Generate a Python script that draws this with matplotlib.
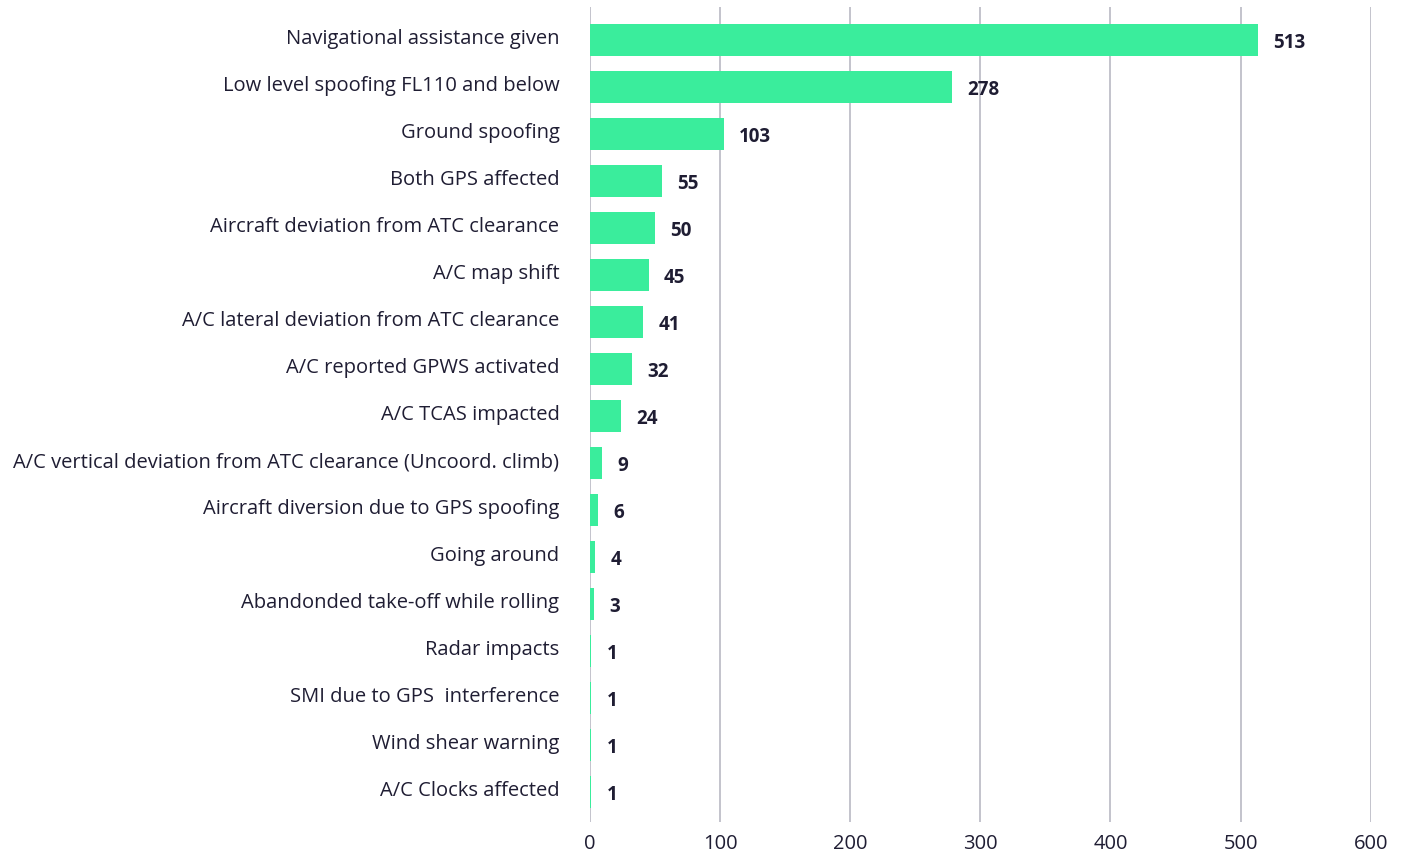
import matplotlib
matplotlib.use("Agg")
import matplotlib.pyplot as plt
from matplotlib.transforms import ScaledTranslation

categories = [
    "Navigational assistance given",
    "Low level spoofing FL110 and below",
    "Ground spoofing",
    "Both GPS affected",
    "Aircraft deviation from ATC clearance",
    "A/C map shift",
    "A/C lateral deviation from ATC clearance",
    "A/C reported GPWS activated",
    "A/C TCAS impacted",
    "A/C vertical deviation from ATC clearance (Uncoord. climb)",
    "Aircraft diversion due to GPS spoofing",
    "Going around",
    "Abandonded take-off while rolling",
    "Radar impacts",
    "SMI due to GPS  interference",
    "Wind shear warning",
    "A/C Clocks affected",
]
values = [513, 278, 103, 55, 50, 45, 41, 32, 24, 9, 6, 4, 3, 1, 1, 1, 1]
xticks = [0, 100, 200, 300, 400, 500, 600]

bar_color = "#3AED9C"
text_color = "#1F1D33"
grid_color = "#B9B9C3"

plt.rcParams['font.family'] = ['Open Sans', 'DejaVu Sans']

fig = plt.figure(figsize=(14.03, 8.54), dpi=100)
ax = fig.add_axes([0.4205, 0.0363, 0.977 - 0.4205, 0.9906 - 0.0363])

pos = list(range(len(categories)))
ax.barh(pos, values, height=0.68, color=bar_color, zorder=2)

for p, v in zip(pos, values):
    ax.annotate(str(v), xy=(v, p), xytext=(11, -1.5), textcoords="offset points",
                ha="left", va="center", fontsize=13.5, fontweight="bold",
                color=text_color)

ax.set_xlim(0, 600)
ax.set_ylim(16.64, -0.70)
ax.set_xticks(xticks)
ax.set_yticks(pos)
ax.set_yticklabels(categories)
ax.grid(axis="x", color=grid_color, linewidth=1.2, zorder=0)
ax.set_axisbelow(True)
for s in ax.spines.values():
    s.set_visible(False)
ax.tick_params(axis="both", length=0, labelsize=14.5, labelcolor=text_color)
ax.tick_params(axis="y", pad=22)
ax.tick_params(axis="x", pad=8)

# category labels sit a little above the bar centres
shift = ScaledTranslation(0, 4 / 100, fig.dpi_scale_trans)
for lab in ax.get_yticklabels():
    lab.set_transform(lab.get_transform() + shift)

fig.savefig("out.png", dpi=100)
